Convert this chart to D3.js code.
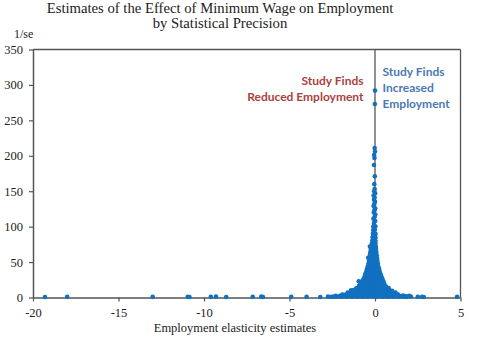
<!DOCTYPE html>
<html><head><meta charset="utf-8">
<script src="https://cdn.jsdelivr.net/npm/d3@7"></script>
<style>html,body{margin:0;padding:0;background:#fff;}svg{display:block;}</style>
</head><body><svg id="c" width="480" height="339"></svg>
<script>
const titleLines = ["Estimates of the Effect of Minimum Wage on Employment", "by Statistical Precision"];
const xTicks = [-20, -15, -10, -5, 0, 5];
const yTicks = [0, 50, 100, 150, 200, 250, 300, 350];
const yLabel = "1/se";
const xLabel = "Employment elasticity estimates";
const reducedText = ["Study Finds", "Reduced Employment"];
const increasedText = ["Study Finds", "Increased", "Employment"];

// estimates lying along the axis (low precision)
const axisOutliers = [[-19.3,0.8],[-18.0,1.0],[-13.0,0.9],[-10.95,1.1],[-10.85,0.7],[-9.6,0.9],[-9.3,1.2],[-8.7,0.8],
  [-7.15,1.0],[-6.65,1.3],[-6.55,0.7],[-4.9,0.9],[-4.0,1.1],[-3.2,0.8],[-2.75,1.2],[-2.55,0.9],[-2.4,1.5],
  [-2.25,1.0],[-2.1,1.8],[1.65,1.2],[1.85,0.9],[2.1,1.4],[2.5,1.0],[2.75,1.1],[2.85,0.8],[4.8,0.9]];

// dense funnel of estimates near zero
const clusterPoints = [
  [-2.3,2.4],[-2.0,2.6],[-1.95,1.2],[-1.8,2.0],[-1.65,1.2],[-1.5,2.0],[-1.35,1.2],[-1.2,2.0],[-1.05,1.2],[-0.9,2.0],[-0.75,1.2],[-0.6,2.0],
  [-0.45,1.2],[-0.3,2.0],[-0.15,1.2],[0.0,2.0],[0.15,1.2],[0.3,2.0],[0.45,1.2],[0.6,2.0],[0.75,1.2],[0.9,2.0],
  [1.05,1.2],[1.2,2.0],[1.35,1.2],[1.5,2.0],[1.65,2.6],[1.8,1.8],[2.0,2.4],
  [-1.9,4.2],[-1.75,3.8],[-1.6,4.4],[-1.45,3.9],[-1.3,4.4],[-1.15,3.9],[-1.0,4.5],[-0.85,4.0],[-0.7,4.3],[-0.55,3.9],
  [-0.4,4.6],[-0.25,4.1],[-0.1,4.4],[0.05,3.8],[0.2,4.5],[0.35,4.0],[0.5,4.3],[0.65,3.9],[0.8,4.2],[0.95,3.7],
  [1.1,4.0],[1.25,3.6],[1.35,4.3],
  [-1.6,7.0],[-1.45,6.6],[-1.3,7.4],[-1.15,6.9],[-1.0,7.3],[-0.85,6.8],[-0.7,7.5],[-0.55,7.0],[-0.4,7.2],[-0.25,6.7],
  [-0.1,7.4],[0.05,6.9],[0.2,7.1],[0.35,6.8],[0.5,7.3],[0.65,6.9],[0.8,7.2],[0.95,6.7],[1.1,6.5],[1.2,7.0],
  [-1.4,10.0],[-1.25,10.4],[-1.1,9.8],[-0.95,10.6],[-0.8,10.1],[-0.65,10.5],[-0.5,9.9],[-0.35,10.3],[-0.2,10.0],
  [-0.05,10.4],[0.1,9.8],[0.25,10.5],[0.4,10.1],[0.55,10.3],[0.7,9.7],[0.85,10.2],[1.0,9.6],
  [-1.1,13.0],[-0.95,13.4],[-0.8,12.8],[-0.65,13.5],[-0.5,13.1],[-0.35,13.6],[-0.2,13.0],[-0.05,13.4],[0.1,12.9],
  [0.25,13.5],[0.4,13.0],[0.55,13.3],[0.7,12.8],[0.8,13.2],
  [-0.95,16.0],[-0.8,16.5],[-0.65,15.8],[-0.5,16.4],[-0.35,16.1],[-0.2,16.6],[-0.05,15.9],[0.1,16.3],[0.25,15.8],
  [0.4,16.4],[0.55,16.0],[0.65,15.6],
  [-0.85,19.0],[-0.71,19.5],[-0.57,18.8],[-0.43,19.6],[-0.29,19.2],[-0.15,19.7],[-0.01,19.0],[0.13,19.3],[0.27,18.7],
  [0.41,19.4],[0.55,18.9],
  [-0.78,22.0],[-0.64,22.5],[-0.5,21.8],[-0.36,22.6],[-0.22,22.2],[-0.08,22.7],[0.06,22.0],[0.2,22.3],[0.34,21.7],[0.5,22.1],
  [-0.95,23.0],
  [-0.7,25.0],[-0.57,25.5],[-0.44,24.8],[-0.31,25.6],[-0.18,25.2],[-0.05,25.7],[0.08,25.0],[0.21,25.4],[0.34,24.8],[0.45,25.2],
  [-0.63,28.0],[-0.5,28.5],[-0.37,27.8],[-0.24,28.6],[-0.11,28.2],[0.02,28.7],[0.15,28.0],[0.28,28.4],[0.4,27.8],
  [-0.58,31.0],[-0.45,31.5],[-0.32,30.8],[-0.19,31.6],[-0.06,31.2],[0.07,31.7],[0.2,31.0],[0.35,31.3],
  [-0.55,34.0],[-0.42,34.5],[-0.29,33.8],[-0.16,34.6],[-0.03,34.2],[0.1,34.7],[0.22,33.8],[0.3,34.3],
  [-0.5,37.0],[-0.38,37.5],[-0.26,36.8],[-0.14,37.6],[-0.02,37.2],[0.1,37.0],[0.2,37.5],[0.27,36.8],
  [-0.47,40.0],[-0.35,40.5],[-0.23,39.8],[-0.11,40.6],[0.01,40.2],[0.13,40.0],[0.24,40.4],
  [-0.42,44.0],[-0.3,44.5],[-0.18,43.8],[-0.06,44.6],[0.06,44.2],[0.2,43.5],
  [-0.38,48.0],[-0.27,48.5],[-0.16,47.8],[-0.05,48.6],[0.06,48.2],[0.17,47.6],
  [-0.35,52.0],[-0.24,52.5],[-0.13,51.8],[-0.02,52.6],[0.09,52.2],[0.14,51.5],
  [-0.4,56.0],[-0.32,56.4],[-0.21,55.8],[-0.1,56.6],[0.01,56.2],[0.12,55.5],
  [-0.3,60.0],[-0.19,60.5],[-0.08,59.8],[0.03,60.4],[0.1,59.6],
  [-0.27,64.0],[-0.16,64.5],[-0.05,63.8],[0.08,64.3],
  [-0.24,68.0],[-0.13,68.5],[-0.02,67.8],[0.06,68.4],
  [-0.3,72.0],[-0.2,72.4],[-0.1,71.8],[0.0,72.5],[0.05,71.5],
  [-0.18,76.0],[-0.08,76.5],[0.03,75.8],
  [-0.16,80.0],[-0.06,80.5],[0.03,79.8],
  [-0.14,85.0],[-0.04,85.5],[0.03,84.8],
  [-0.12,90.0],[-0.03,90.5],[0.03,89.8],
  [-0.1,95.0],[-0.01,95.5],
  [-0.1,100.0],[0.02,100.5]
];

// narrow spike of the most precise estimates
const spikePoints = [[-0.06,105],[0.01,108],[-0.09,111],[-0.02,114],[0.02,117],[-0.07,120],[-0.03,123],[0.01,126],
  [-0.08,129],[-0.04,132],[0.0,135],[-0.06,138],[-0.02,141],[-0.08,144],[0.01,147],[-0.05,150],[-0.02,153],
  [-0.04,160],[-0.01,171],[-0.06,187],[-0.03,197],[-0.05,201],[0.0,206],[-0.02,211],[-0.01,273],[0.0,292]];

const svg = d3.select("#c");
const margin = {left: 33, right: 19.5, top: 49.5, bottom: 41.5};
const W = 480, H = 339;
const x = d3.scaleLinear().domain([-20, 5]).range([margin.left, W - margin.right]);
const y = d3.scaleLinear().domain([0, 350]).range([H - margin.bottom, margin.top]);
const serif = "'Liberation Serif','Times New Roman',serif";
const axisColor = "#555";

// title
svg.append("g").selectAll("text").data(titleLines).join("text")
  .attr("x", 220).attr("y", (d, i) => 12.5 + i * 15.3)
  .attr("text-anchor", "middle").attr("font-family", serif).attr("font-size", 14.7)
  .attr("fill", "#222").text(d => d);

// frame top & right
svg.append("line").attr("x1", x(-20)).attr("x2", x(5)).attr("y1", y(350)).attr("y2", y(350))
  .attr("stroke", axisColor).attr("stroke-width", 1.3);
svg.append("line").attr("x1", x(5)).attr("x2", x(5)).attr("y1", y(350)).attr("y2", y(0))
  .attr("stroke", axisColor).attr("stroke-width", 1.3);
// zero line
svg.append("line").attr("x1", x(0)).attr("x2", x(0)).attr("y1", y(350)).attr("y2", y(0))
  .attr("stroke", axisColor).attr("stroke-width", 1.3);

// axes
const yAxis = svg.append("g").attr("transform", `translate(${margin.left},0)`)
  .call(d3.axisLeft(y).tickValues(yTicks).tickSize(4).tickPadding(6).tickSizeOuter(0));
const xAxis = svg.append("g").attr("transform", `translate(0,${y(0)})`)
  .call(d3.axisBottom(x).tickValues(xTicks).tickSize(4).tickPadding(7).tickSizeOuter(0).tickFormat(d3.format("d")));
[yAxis, xAxis].forEach(g => {
  g.select(".domain").attr("stroke", axisColor).attr("stroke-width", 1.5);
  g.selectAll(".tick line").attr("stroke", axisColor).attr("stroke-width", 1.2);
  g.selectAll(".tick text").attr("font-family", serif).attr("font-size", 12.5).attr("fill", "#222");
});
xAxis.selectAll(".tick text").text(d => d < 0 ? "-" + Math.abs(d) : d);

// labels
svg.append("text").attr("x", 14).attr("y", 38).attr("font-family", serif).attr("font-size", 12)
  .attr("fill", "#222").text(yLabel);
svg.append("text").attr("x", 235).attr("y", 331.5).attr("text-anchor", "middle").attr("font-family", serif)
  .attr("font-size", 12.5).attr("fill", "#222").text(xLabel);

// points
const allPoints = axisOutliers.concat(clusterPoints, spikePoints);
svg.append("g").selectAll("circle").data(allPoints).join("circle")
  .attr("cx", d => x(d[0])).attr("cy", d => y(d[1])).attr("r", 2.3)
  .attr("fill", "#1270c0");

// annotations
const sans = "Lato,'Open Sans',sans-serif";
svg.append("g").selectAll("text").data(reducedText).join("text")
  .attr("x", 363.5).attr("y", (d, i) => 85 + i * 15.7).attr("text-anchor", "end")
  .attr("font-family", sans).attr("font-weight", "bold").attr("font-size", 12)
  .attr("fill", "#a8423f").text(d => d);
svg.append("g").selectAll("text").data(increasedText).join("text")
  .attr("x", 382.5).attr("y", (d, i) => 76 + i * 15.9)
  .attr("font-family", sans).attr("font-weight", "bold").attr("font-size", 12)
  .attr("fill", "#4a7ab4").text(d => d);
</script></body></html>
